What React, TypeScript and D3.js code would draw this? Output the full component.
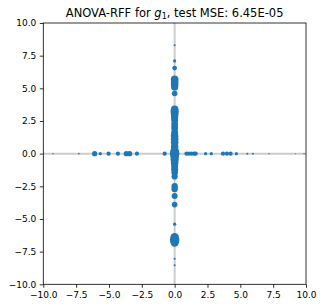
import React, { useEffect, useRef } from "react";
import * as d3 from "d3";

// points that sit on the vertical axis (x = 0)
const verticalY = [
  8.3, 7.1, 6.55, 5.7, 5.5, 5.3, 5.1, 4.6, 3.4, 3.2, 3.0, 2.8, 2.6, 2.3, 2.1,
  1.9, 1.6, 1.35, 1.1, 0.85, 0.5, 0.2, 0.0, -0.2, -0.45, -0.7, -0.95, -1.2,
  -1.45, -1.75, -2.5, -2.7, -3.25, -3.9, -5.4, -6.4, -6.6, -6.8, -8.05, -8.55,
];
const verticalSize = [
  1, 1.6, 2.4, 3.8, 3.8, 3.8, 3.6, 2.8, 3.8, 4.1, 3.8, 3.6, 3.5, 3.3, 3.3,
  3.3, 3.5, 3.8, 3.8, 3.8, 3.8, 4.3, 4.8, 4.3, 4.1, 3.8, 3.5, 3.5, 3.3, 3.1,
  3.2, 3.2, 3, 2.8, 1.6, 4.2, 4.8, 4.2, 1, 1,
];

// points that sit on the horizontal axis (y = 0)
const horizontalX = [
  -9.27, -7.29, -6.09, -5.66, -5.03, -4.32, -3.68, -3.43, -2.87, -0.76, 0.9,
  1.1, 1.3, 1.5, 1.6, 2.36, 2.79, 3.68, 3.98, 4.26, 4.7, 5.53, 5.96, 7.18, 9.2,
  9.85,
];
const horizontalSize = [
  0.7, 0.8, 2.6, 1.6, 2.1, 2.1, 2.6, 2.6, 2.1, 2.1, 2.1, 2.1, 2.1, 2.1, 2.1,
  1.6, 1.6, 2.1, 2.1, 2.1, 1.6, 1, 1, 0.7, 0.5, 0.7,
];

const tickValues = [-10, -7.5, -5, -2.5, 0, 2.5, 5, 7.5, 10];

function App() {
  const ref = useRef<SVGSVGElement>(null);

  useEffect(() => {
    const width = 324;
    const height = 308;
    const margin = { top: 23, right: 18, bottom: 23.7, left: 43.3 };
    const innerW = width - margin.left - margin.right;
    const innerH = height - margin.top - margin.bottom;

    const svg = d3.select(ref.current);
    svg.selectAll("*").remove();

    const x = d3.scaleLinear().domain([-10, 10]).range([0, innerW]);
    const y = d3.scaleLinear().domain([-10, 10]).range([innerH, 0]);

    const g = svg
      .append("g")
      .attr("transform", `translate(${margin.left},${margin.top})`);

    // reference lines through the origin
    g.append("line")
      .attr("x1", 0)
      .attr("x2", innerW)
      .attr("y1", y(0))
      .attr("y2", y(0))
      .attr("stroke", "#cccccc")
      .attr("stroke-width", 2);
    g.append("line")
      .attr("x1", x(0))
      .attr("x2", x(0))
      .attr("y1", 0)
      .attr("y2", innerH)
      .attr("stroke", "#cccccc")
      .attr("stroke-width", 2);

    const points = [
      ...verticalY.map((v, i) => ({ px: 0, py: v, r: verticalSize[i] })),
      ...horizontalX.map((v, i) => ({ px: v, py: 0, r: horizontalSize[i] })),
    ];

    g.selectAll("circle")
      .data(points)
      .enter()
      .append("circle")
      .attr("cx", (d) => x(d.px))
      .attr("cy", (d) => y(d.py))
      .attr("r", (d) => d.r)
      .attr("fill", "#1f77b4");

    const fmt = d3.format(".1f");
    const xAxis = d3
      .axisBottom(x)
      .tickValues(tickValues)
      .tickSize(3.5)
      .tickPadding(3.5)
      .tickFormat((d) => fmt(d as number).replace("-", "\u2212"));
    const yAxis = d3
      .axisLeft(y)
      .tickValues(tickValues)
      .tickSize(3.5)
      .tickPadding(3.5)
      .tickFormat((d) => fmt(d as number).replace("-", "\u2212"));

    const gx = g
      .append("g")
      .attr("transform", `translate(0,${innerH})`)
      .call(xAxis);
    const gy = g.append("g").call(yAxis);

    [gx, gy].forEach((ax) => {
      ax.select(".domain").remove();
      ax.selectAll("line").attr("stroke", "#000").attr("stroke-width", 0.8);
      ax.selectAll("text")
        .attr("font-family", "DejaVu Sans")
        .attr("font-size", 9)
        .attr("fill", "#000");
    });

    // frame
    g.append("rect")
      .attr("width", innerW)
      .attr("height", innerH)
      .attr("fill", "none")
      .attr("stroke", "#000")
      .attr("stroke-width", 0.8);

    const title = svg
      .append("text")
      .attr("x", margin.left + innerW / 2)
      .attr("y", margin.top - 6)
      .attr("text-anchor", "middle")
      .attr("font-family", "DejaVu Sans")
      .attr("font-size", 11.5)
      .attr("fill", "#000");
    title.append("tspan").text("ANOVA-RFF for ");
    title.append("tspan").attr("font-style", "italic").text("g");
    title
      .append("tspan")
      .attr("font-size", 8)
      .attr("dy", 2)
      .text("1");
    title.append("tspan").attr("dy", -2).text(", test MSE: 6.45E-05");
  }, []);

  return (
    <svg
      ref={ref}
      width={324}
      height={308}
      style={{ position: "absolute", left: 0, top: 0 }}
    />
  );
}

export default App;
